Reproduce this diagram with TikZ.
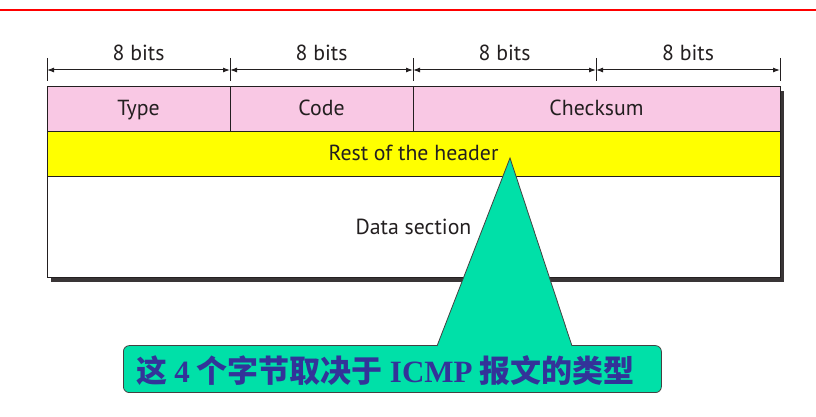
\documentclass[tikz,border=0pt]{standalone}
\usepackage{fontspec}
\setmainfont{PT Sans}
\newfontfamily\cjk{Noto Sans CJK SC}
\newfontfamily\tnr{Liberation Serif}
\usetikzlibrary{arrows.meta}
\definecolor{pinkc}{HTML}{F9C8E4}
\definecolor{yelc}{HTML}{FFFF00}
\definecolor{greenc}{HTML}{00E0A8}
\definecolor{txtblue}{HTML}{333399}
\definecolor{linec}{HTML}{231F20}
\begin{document}
\begin{tikzpicture}[x=1pt,y=1pt,
  field/.style={draw=linec, line width=1.2pt, inner sep=0pt, anchor=south west},
  lbl/.style={font=\fontsize{21.8}{26}\selectfont, text=linec, inner sep=0pt, anchor=base},
  tickline/.style={draw=linec, line width=1pt},
  dimline/.style={draw=linec, line width=1pt, {Latex[length=7pt,width=5pt]}-{Latex[length=7pt,width=5pt]}},
  callout/.style={fill=greenc, draw=linec!85, line width=0.8pt}]
\useasboundingbox (0,0) rectangle (816,417);
% top red rule
\coordinate (rl) at (0,407);
\coordinate (rr) at (816,407);
\draw[red, line width=1.5pt] (rl) -- (rr);
% ticks
\foreach \i/\x in {0/47,1/230,2/413,3/596,4/780}{
  \coordinate (tt\i) at (\x,359);
  \coordinate (tb\i) at (\x,336);
  \coordinate (ta\i) at (\x,347);
  \draw[tickline] (tt\i) -- (tb\i);
}
\draw[dimline] (ta0) -- (ta1);
\draw[dimline] (ta1) -- (ta2);
\draw[dimline] (ta2) -- (ta3);
\draw[dimline] (ta3) -- (ta4);
\node[lbl] (b1) at (138.5,356) {8 bits};
\node[lbl] (b2) at (321.5,356) {8 bits};
\node[lbl] (b3) at (504.5,356) {8 bits};
\node[lbl] (b4) at (688,356) {8 bits};
% shadow
\fill[linec!90] (51,135) rectangle (784,326);
% fields
\node[field, fill=pinkc, minimum width=183, minimum height=45] (type) at (47,285) {};
\node[field, fill=pinkc, minimum width=183, minimum height=45] (code) at (230,285) {};
\node[field, fill=pinkc, minimum width=367, minimum height=45] (cks) at (413,285) {};
\node[field, fill=yelc, minimum width=733, minimum height=45] (rest) at (47,240) {};
\node[field, fill=white, minimum width=733, minimum height=101] (data) at (47,139) {};
\node[lbl] (ltype) at (138.5,301) {Type};
\node[lbl] (lcode) at (321.5,301) {Code};
\node[lbl] (lcks) at (596.5,301) {Checksum};
\node[lbl] (lrest) at (413.5,256) {Rest of the header};
\node[lbl] (ldata) at (413.5,182) {Data section};
% callout
\node[callout, rounded corners=6pt, minimum width=538, minimum height=47, inner sep=0pt, anchor=south west] (note) at (123,24) {};
\coordinate (apex) at (510,259);
\coordinate (bl) at (437,71);
\coordinate (br) at (572,71);
\filldraw[callout] (bl) -- (apex) -- (br);
\fill[greenc] (437.7,70.2) rectangle (571.3,71.8);
\node[anchor=base west, inner sep=0pt, text=txtblue, font=\fontsize{31}{36}\selectfont\bfseries] (notetext) at (136,34)
  {\cjk 这 {\tnr\bfseries 4} 个字节取决于 {\tnr\bfseries ICMP} 报文的类型};
\end{tikzpicture}
\end{document}
